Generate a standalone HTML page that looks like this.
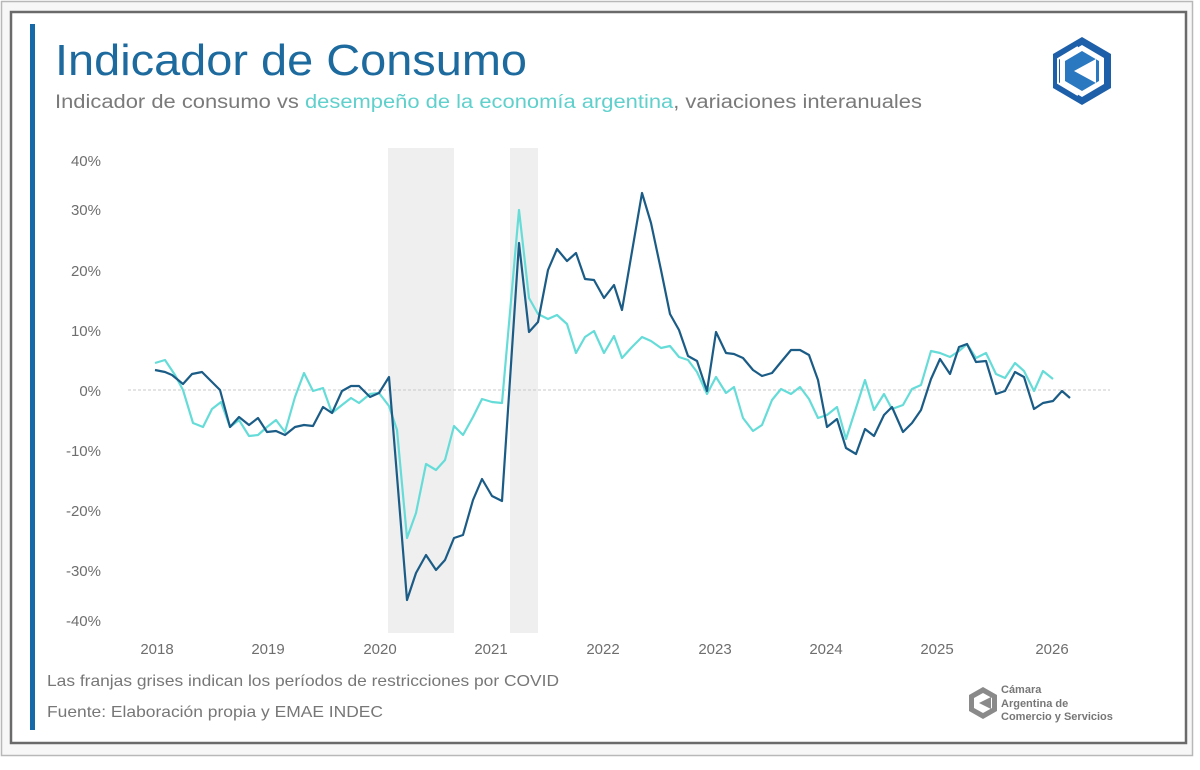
<!DOCTYPE html>
<html><head><meta charset="utf-8"><style>
body{margin:0;width:1200px;height:765px;background:#fff;overflow:hidden;font-family:"Liberation Sans",Arial,sans-serif;}
</style></head><body>
<svg width="1200" height="765" viewBox="0 0 1200 765" xmlns="http://www.w3.org/2000/svg" font-family="Liberation Sans, Arial, sans-serif">
<rect x="0" y="0" width="1200" height="765" fill="#fff"/>
<rect x="1.5" y="1.5" width="1191" height="754" fill="#f7f7f7" stroke="#b8b8b8" stroke-width="1.5"/>
<rect x="11" y="12" width="1175" height="731" fill="#fff" stroke="#6a6a6a" stroke-width="2.5"/>
<rect x="30" y="24" width="5" height="706" fill="#1569a8"/>
<text x="55" y="75" font-size="44" fill="#1d6a9e" textLength="472" lengthAdjust="spacingAndGlyphs">Indicador de Consumo</text>
<text x="55" y="108" font-size="19" fill="#7a7a7a" textLength="867" lengthAdjust="spacingAndGlyphs">Indicador de consumo vs <tspan fill="#5fd0cc">desempeño de la economía argentina</tspan>, variaciones interanuales</text>
<!-- logo -->
<g transform="translate(1082,71)">
<polygon points="0,-34 29,-17 29,17 0,34 -29,17 -29,-17" fill="#1d5fa8"/>
<polygon points="0,-26 22,-13 22,13 0,26 -22,13 -22,-13" fill="#fff"/>
<polygon points="0,-20 17,-10 17,10 0,20 -17,10 -17,-10" fill="#2a78c0"/>
<polygon points="-8,0 14,-12 14,12" fill="#fff"/>
<polyline points="-4,-24 -24,-12 -24,12 -4,24" fill="none" stroke="#fff" stroke-width="2"/>
</g>
<!-- bands -->
<rect x="388" y="148" width="66" height="485" fill="#efefef"/>
<rect x="510" y="148" width="28" height="485" fill="#efefef"/>
<line x1="128" y1="390" x2="1110" y2="390" stroke="#c8c8c8" stroke-width="1" stroke-dasharray="3,2"/>
<g font-size="15" fill="#6e6e6e" text-anchor="end">
<text x="101" y="166">40%</text><text x="101" y="215">30%</text><text x="101" y="276">20%</text><text x="101" y="336">10%</text><text x="101" y="396">0%</text><text x="101" y="456">-10%</text><text x="101" y="516">-20%</text><text x="101" y="576">-30%</text><text x="101" y="626">-40%</text>
</g>
<g font-size="15" fill="#6e6e6e" text-anchor="middle">
<text x="157" y="654">2018</text><text x="268" y="654">2019</text><text x="380" y="654">2020</text><text x="491" y="654">2021</text><text x="603" y="654">2022</text><text x="715" y="654">2023</text><text x="826" y="654">2024</text><text x="937" y="654">2025</text><text x="1052" y="654">2026</text>
</g>
<polyline fill="none" stroke="#66dcd8" stroke-width="2.2" stroke-linejoin="round" points="155,363 165,360 175,375 183,390 193,423 203,427 212,409 221,402 230,427 239,420 249,436 258,435 267,427 276,420 285,432 295,397 304,373 313,391 323,388 332,413 342,405 351,398 359,403 370,394 379,393 389,406 397,430 407,538 416,513 426,464 436,470 445,460 454,426 463,435 473,417 482,399 492,402 502,403 519,210 529,298 538,314 548,319 557,315 567,324 576,353 585,337 594,331 604,353 614,336 622,358 632,347 642,337 651,341 661,348 670,346 679,357 688,360 697,372 707,394 716,377 726,393 734,387 743,418 753,431 762,425 772,400 781,389 791,394 800,387 809,399 818,418 827,415 837,407 846,439 856,408 865,380 874,410 884,394 892,409 903,405 912,389 921,385 931,351 940,353 950,357 959,351 967,344 976,358 986,353 996,374 1005,378 1015,363 1024,371 1034,391 1043,371 1053,379"/>
<polyline fill="none" stroke="#1b5c86" stroke-width="2.2" stroke-linejoin="round" points="155,370 165,372 172,375 183,384 192,374 202,372 212,382 220,390 230,427 239,417 249,425 258,418 267,432 276,431 285,435 295,427 304,425 313,426 323,407 332,413 342,391 351,386 359,386 370,397 379,393 389,377 407,600 416,573 426,555 436,570 445,560 454,538 463,535 473,500 482,479 492,496 502,501 519,243 529,332 538,322 548,270 557,249 567,261 576,253 585,279 594,280 604,298 614,285 622,310 642,193 651,223 661,270 670,314 679,330 688,356 697,361 707,391 716,332 726,353 734,354 743,358 753,370 762,376 772,373 781,362 791,350 800,350 809,355 818,380 827,427 837,419 846,448 856,454 865,429 874,436 884,415 892,407 903,432 912,423 921,410 931,379 940,359 950,374 959,347 967,344 976,362 986,361 996,394 1005,391 1015,372 1024,377 1034,409 1043,403 1053,401 1062,391 1070,398"/>
<text x="47" y="686" font-size="16" fill="#777" textLength="512" lengthAdjust="spacingAndGlyphs">Las franjas grises indican los períodos de restricciones por COVID</text>
<text x="47" y="717" font-size="16" fill="#777" textLength="336" lengthAdjust="spacingAndGlyphs">Fuente: Elaboración propia y EMAE INDEC</text>
<g transform="translate(983,703)">
<polygon points="0,-16 14,-8 14,8 0,16 -14,8 -14,-8" fill="#8a8a8a"/>
<polygon points="0,-10 9,-5 9,5 0,10 -9,5 -9,-5" fill="#fff"/>
<polygon points="-4,0 8,-6 8,6" fill="#8a8a8a"/>
</g>
<g font-size="11" fill="#777" font-weight="bold">
<text x="1001" y="693">Cámara</text><text x="1001" y="707">Argentina de</text><text x="1001" y="720">Comercio y Servicios</text>
</g>
</svg>
</body></html>
